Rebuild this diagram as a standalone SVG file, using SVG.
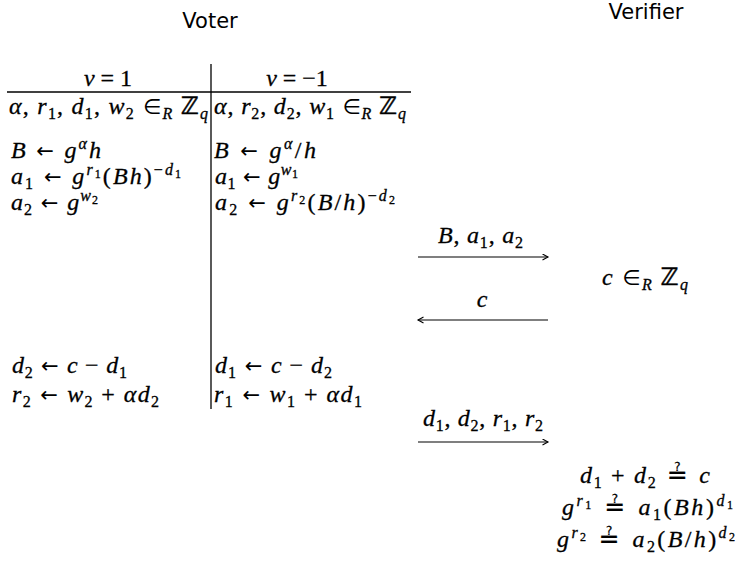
<svg xmlns="http://www.w3.org/2000/svg" width="740" height="562" viewBox="0 0 740 562">
<style>
.h{font-family:"DejaVu Sans","Liberation Sans",sans-serif;font-size:21px;fill:#000}
.t{font-family:"Liberation Serif","Times New Roman",serif;font-size:24px;fill:#000;stroke:#000;stroke-width:0.3}
.i{font-style:italic}
.y{font-family:"DejaVu Sans",sans-serif;font-size:21px;font-style:normal;stroke-width:0}
.q{font-family:"DejaVu Sans",sans-serif;font-size:25px;font-style:normal;stroke-width:0.2}
.z{font-family:"DejaVu Sans",sans-serif;font-weight:bold;font-style:normal;stroke-width:0.4}
.sb{font-size:16px}
.ss{font-size:12px}
.ln{stroke:#000;stroke-width:1.3;fill:none}
.ar{stroke:#000;stroke-width:1.2;fill:none;marker-end:url(#ah)}
</style>
<defs>
<marker id="ah" markerUnits="userSpaceOnUse" markerWidth="8" markerHeight="8" refX="6" refY="3.5" orient="auto">
<path d="M0.5,0.5 L6,3.5 L0.5,6.5" fill="none" stroke="#000" stroke-width="1.1"/>
</marker>
</defs>
<rect width="740" height="562" fill="#fff"/>

<g id="voter">
<text class="h" x="210" y="28" text-anchor="middle">Voter</text>
</g>
<g id="verifier">
<text class="h" x="646" y="19" text-anchor="middle">Verifier</text>
</g>

<g id="voter-table">
<line class="ln" x1="211" y1="64" x2="211" y2="409"/>
<line class="ln" x1="7" y1="92" x2="411" y2="92"/>
<text class="t" x="108" y="86" text-anchor="middle"><tspan class="i">v</tspan> = 1</text>
<text class="t" x="297" y="86" text-anchor="middle"><tspan class="i">v</tspan> = −1</text>

<text class="t" x="9" y="114" textLength="199" lengthAdjust="spacing"><tspan class="i">α</tspan>, <tspan class="i">r</tspan><tspan class="sb" dy="5">1</tspan><tspan dy="-5">, </tspan><tspan class="i">d</tspan><tspan class="sb" dy="5">1</tspan><tspan dy="-5">, </tspan><tspan class="i">w</tspan><tspan class="sb" dy="5">2</tspan><tspan class="y" dy="-5"> ∈</tspan><tspan class="sb i" dy="5">R</tspan><tspan dy="-5"> </tspan><tspan class="z">ℤ</tspan><tspan class="sb i" dy="5">q</tspan></text>
<text class="t" x="214" y="114" textLength="192" lengthAdjust="spacing"><tspan class="i">α</tspan>, <tspan class="i">r</tspan><tspan class="sb" dy="5">2</tspan><tspan dy="-5">, </tspan><tspan class="i">d</tspan><tspan class="sb" dy="5">2</tspan><tspan dy="-5">, </tspan><tspan class="i">w</tspan><tspan class="sb" dy="5">1</tspan><tspan class="y" dy="-5"> ∈</tspan><tspan class="sb i" dy="5">R</tspan><tspan dy="-5"> </tspan><tspan class="z">ℤ</tspan><tspan class="sb i" dy="5">q</tspan></text>

<text class="t" x="11" y="158" textLength="90" lengthAdjust="spacing"><tspan class="i">B</tspan><tspan class="y"> ← </tspan><tspan class="i">g</tspan><tspan class="sb i" dy="-9">α</tspan><tspan class="i" dy="9">h</tspan></text>
<text class="t" x="11" y="184" textLength="170" lengthAdjust="spacing"><tspan class="i">a</tspan><tspan class="sb" dy="5">1</tspan><tspan class="y" dy="-5"> ← </tspan><tspan class="i">g</tspan><tspan class="sb i" dy="-9">r</tspan><tspan class="ss" dy="3">1</tspan><tspan dy="6">(</tspan><tspan class="i">Bh</tspan>)<tspan class="sb" dy="-9">−</tspan><tspan class="sb i">d</tspan><tspan class="ss" dy="3">1</tspan></text>
<text class="t" x="11" y="210" textLength="87" lengthAdjust="spacing"><tspan class="i">a</tspan><tspan class="sb" dy="5">2</tspan><tspan class="y" dy="-5"> ← </tspan><tspan class="i">g</tspan><tspan class="sb i" dy="-9">w</tspan><tspan class="ss" dy="3">2</tspan></text>

<text class="t" x="214" y="158" textLength="102" lengthAdjust="spacing"><tspan class="i">B</tspan><tspan class="y"> ← </tspan><tspan class="i">g</tspan><tspan class="sb i" dy="-9">α</tspan><tspan dy="9">/</tspan><tspan class="i">h</tspan></text>
<text class="t" x="215" y="184" textLength="83" lengthAdjust="spacing"><tspan class="i">a</tspan><tspan class="sb" dy="5">1</tspan><tspan class="y" dy="-5"> ← </tspan><tspan class="i">g</tspan><tspan class="sb i" dy="-9">w</tspan><tspan class="ss" dy="3">1</tspan></text>
<text class="t" x="215" y="210" textLength="180" lengthAdjust="spacing"><tspan class="i">a</tspan><tspan class="sb" dy="5">2</tspan><tspan class="y" dy="-5"> ← </tspan><tspan class="i">g</tspan><tspan class="sb i" dy="-9">r</tspan><tspan class="ss" dy="3">2</tspan><tspan dy="6">(</tspan><tspan class="i">B</tspan>/<tspan class="i">h</tspan>)<tspan class="sb" dy="-9">−</tspan><tspan class="sb i">d</tspan><tspan class="ss" dy="3">2</tspan></text>

<text class="t" x="12" y="373" textLength="115" lengthAdjust="spacing"><tspan class="i">d</tspan><tspan class="sb" dy="5">2</tspan><tspan class="y" dy="-5"> ← </tspan><tspan class="i">c</tspan> − <tspan class="i">d</tspan><tspan class="sb" dy="5">1</tspan></text>
<text class="t" x="12" y="402" textLength="147" lengthAdjust="spacing"><tspan class="i">r</tspan><tspan class="sb" dy="5">2</tspan><tspan class="y" dy="-5"> ← </tspan><tspan class="i">w</tspan><tspan class="sb" dy="5">2</tspan><tspan dy="-5"> + </tspan><tspan class="i">αd</tspan><tspan class="sb" dy="5">2</tspan></text>
<text class="t" x="215" y="373" textLength="117" lengthAdjust="spacing"><tspan class="i">d</tspan><tspan class="sb" dy="5">1</tspan><tspan class="y" dy="-5"> ← </tspan><tspan class="i">c</tspan> − <tspan class="i">d</tspan><tspan class="sb" dy="5">2</tspan></text>
<text class="t" x="214" y="402" textLength="148" lengthAdjust="spacing"><tspan class="i">r</tspan><tspan class="sb" dy="5">1</tspan><tspan class="y" dy="-5"> ← </tspan><tspan class="i">w</tspan><tspan class="sb" dy="5">1</tspan><tspan dy="-5"> + </tspan><tspan class="i">αd</tspan><tspan class="sb" dy="5">1</tspan></text>
</g>

<g id="verifier-challenge">
<text class="t" x="602" y="285" textLength="86" lengthAdjust="spacing"><tspan class="i">c</tspan><tspan class="y"> ∈</tspan><tspan class="sb i" dy="5">R</tspan><tspan dy="-5"> </tspan><tspan class="z">ℤ</tspan><tspan class="sb i" dy="5">q</tspan></text>
</g>

<g id="verifier-checks">
<text class="t" x="580" y="483" textLength="130" lengthAdjust="spacing"><tspan class="i">d</tspan><tspan class="sb" dy="5">1</tspan><tspan dy="-5"> + </tspan><tspan class="i">d</tspan><tspan class="sb" dy="5">2</tspan><tspan class="q" dy="-5"> ≟ </tspan><tspan class="i">c</tspan></text>
<text class="t" x="562" y="515" textLength="171" lengthAdjust="spacing"><tspan class="i">g</tspan><tspan class="sb i" dy="-9">r</tspan><tspan class="ss" dy="3">1</tspan><tspan class="q" dy="6"> ≟ </tspan><tspan class="i">a</tspan><tspan class="sb" dy="5">1</tspan><tspan dy="-5">(</tspan><tspan class="i">Bh</tspan>)<tspan class="sb i" dy="-9">d</tspan><tspan class="ss" dy="3">1</tspan></text>
<text class="t" x="557" y="547" textLength="178" lengthAdjust="spacing"><tspan class="i">g</tspan><tspan class="sb i" dy="-9">r</tspan><tspan class="ss" dy="3">2</tspan><tspan class="q" dy="6"> ≟ </tspan><tspan class="i">a</tspan><tspan class="sb" dy="5">2</tspan><tspan dy="-5">(</tspan><tspan class="i">B</tspan>/<tspan class="i">h</tspan>)<tspan class="sb i" dy="-9">d</tspan><tspan class="ss" dy="3">2</tspan></text>
</g>

<g id="connectors">
<g id="msg-commit">
<line class="ar" x1="418" y1="257" x2="548" y2="257"/>
<text class="t" x="438" y="243" textLength="85" lengthAdjust="spacing"><tspan class="i">B</tspan>, <tspan class="i">a</tspan><tspan class="sb" dy="5">1</tspan><tspan dy="-5">, </tspan><tspan class="i">a</tspan><tspan class="sb" dy="5">2</tspan></text>
</g>
<g id="msg-challenge">
<line class="ar" x1="548" y1="320" x2="418" y2="320"/>
<text class="t i" x="482" y="307" text-anchor="middle">c</text>
</g>
<g id="msg-response">
<line class="ar" x1="418" y1="442" x2="548" y2="442"/>
<text class="t" x="423" y="426" textLength="120" lengthAdjust="spacing"><tspan class="i">d</tspan><tspan class="sb" dy="5">1</tspan><tspan dy="-5">, </tspan><tspan class="i">d</tspan><tspan class="sb" dy="5">2</tspan><tspan dy="-5">, </tspan><tspan class="i">r</tspan><tspan class="sb" dy="5">1</tspan><tspan dy="-5">, </tspan><tspan class="i">r</tspan><tspan class="sb" dy="5">2</tspan></text>
</g>
</g>
</svg>
